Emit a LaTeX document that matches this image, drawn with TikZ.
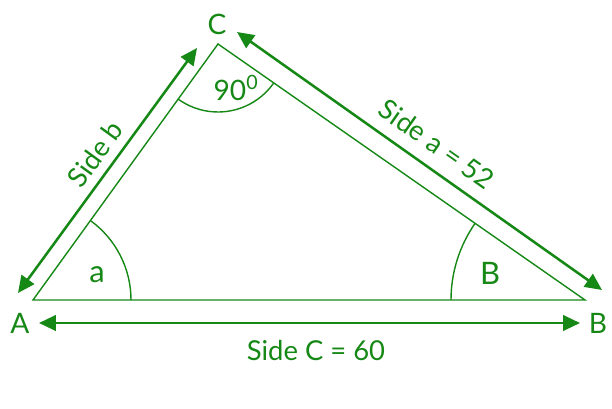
\documentclass[tikz,border=0pt]{standalone}
\usepackage{fontspec}
\setmainfont{Lato}
\usepackage{xcolor}
\usetikzlibrary{arrows.meta}
\definecolor{leafgreen}{RGB}{22,136,22}

\begin{document}
\begin{tikzpicture}[x=0.025cm,y=0.025cm,
    side/.style={leafgreen,line width=1.8pt,{Triangle[length=12pt,width=11pt]}-{Triangle[length=12pt,width=11pt]}},
    edge/.style={leafgreen,line width=1pt},
    lbl/.style={leafgreen,inner sep=0pt,font=\fontsize{19.5}{21}\selectfont}]
    \useasboundingbox (0,0) rectangle (612,408);
    % Corners of the triangle
    \coordinate (A) at (33,108);
    \coordinate (B) at (585,108);
    \coordinate (C) at (218,364);
    % Draw triangle
    \draw[edge] (A) -- (B) -- (C) -- cycle;
    % Angle arcs
    \draw[edge] ([shift={(0:98)}]A) arc[start angle=0,end angle=54,radius=98];
    \draw[edge] ([shift={(145:134)}]B) arc[start angle=145,end angle=180,radius=134];
    \draw[edge] ([shift={(234:68)}]C) arc[start angle=234,end angle=325,radius=68];
    % Arrow ends along the sides
    \coordinate (bLow) at (18,115);
    \coordinate (bTop) at (197,360);
    \coordinate (aTop) at (237,376);
    \coordinate (aLow) at (602,118);
    \coordinate (cLeft) at (39,85);
    \coordinate (cRight) at (580,85);
    % Draw side arrows
    \draw[side] (bLow) -- (bTop);
    \draw[side] (aTop) -- (aLow);
    \draw[side] (cLeft) -- (cRight);
    % Corner names
    \node[lbl,font=\fontsize{20}{22}\selectfont] (labC) at (217,384) {C};
    \node[lbl,font=\fontsize{20}{22}\selectfont] (labA) at (20,85) {A};
    \node[lbl,font=\fontsize{20}{22}\selectfont] (labB) at (598,85) {B};
    % Angle names
    \node[lbl,font=\fontsize{22}{24}\selectfont] (angA) at (97,133) {a};
    \node[lbl,font=\fontsize{22}{24}\selectfont] (angB) at (490,135) {B};
    \node[lbl,font=\fontsize{20}{22}\selectfont] (angC) at (236,320) {90\textsuperscript{0}};
    % Side names
    \node[lbl] (sideb) at (95,254) [rotate=54] {Side b};
    \node[lbl] (sidea) at (437,264) [rotate=-35] {Side a = 52};
    \node[lbl] (sidec) at (316,57) {Side C = 60};
\end{tikzpicture}
\end{document}
